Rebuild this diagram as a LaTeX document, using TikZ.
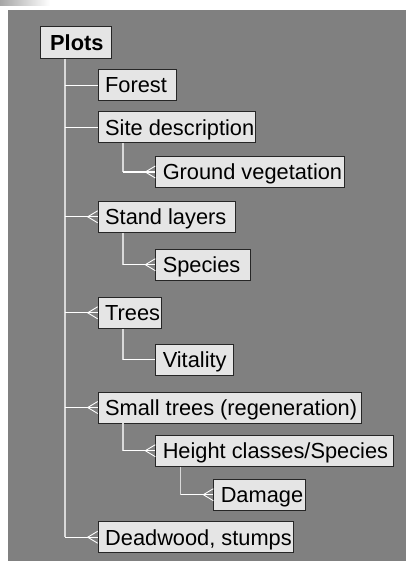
\documentclass[tikz,border=0pt]{standalone}
\usepackage{fontspec}
\setmainfont{Liberation Sans}
\usetikzlibrary{calc}
\newcommand{\bxt}[2]{\makebox[#1pt][l]{\hspace{7pt}#2}}
\begin{document}
\begin{tikzpicture}[x=1pt,y=-1pt,
  ent/.style={draw=black!85, fill=black!10, line width=0.9pt, inner xsep=0pt, inner ysep=0pt,
    text height=15.6pt, text depth=0pt, minimum height=31pt, anchor=west,
    font=\fontsize{21.8}{24}\selectfont},
  trunk/.style={draw=black!15, line width=1.1pt},
  link/.style={draw=white, line width=1.2pt},
  crowl/.style={draw=white, line width=0.9pt}]
\useasboundingbox (0,0) rectangle (406,561);
\shade[left color=black!35, right color=white] (0,0) rectangle (50,6);
\fill[black!50] (8,10) rectangle (406,561);

\node[ent, minimum height=31.6pt] (plots) at (39.7,42.5) {\makebox[71pt][l]{\hspace{10pt}\bfseries Plots}};
\node[ent] (forest) at (97.7,85.2) {\bxt{78.6}{Forest}};
\node[ent] (site) at (97.7,127.4) {\bxt{157.3}{Site description}};
\node[ent] (ground) at (155.3,172) {\bxt{189}{Ground vegetation}};
\node[ent] (stand) at (97.7,216.8) {\bxt{137.6}{Stand layers}};
\node[ent] (species) at (155.3,264.7) {\bxt{94.4}{Species}};
\node[ent] (trees) at (97.7,312.8) {\bxt{63.3}{Trees}};
\node[ent] (vitality) at (155.3,359.7) {\bxt{77.4}{Vitality}};
\node[ent] (small) at (97.7,407.5) {\bxt{263.3}{Small trees (regeneration)}};
\node[ent] (height) at (155.3,450.7) {\bxt{237.4}{Height classes/Species}};
\node[ent] (damage) at (213.3,494.7) {\bxt{92}{Damage}};
\node[ent] (dead) at (97.7,537.2) {\bxt{195.6}{Deadwood, stumps}};

% trunks
\coordinate (t0) at ($(plots.south west)+(25.3,0)$);
\coordinate (t1) at ($(site.south west)+(25.3,0)$);
\coordinate (t2) at ($(stand.south west)+(25.3,0)$);
\coordinate (t3) at ($(trees.south west)+(25.3,0)$);
\coordinate (t4) at ($(small.south west)+(25.3,0)$);
\coordinate (t5) at ($(height.south west)+(25.3,0)$);
\path[trunk] (t0) -- (t0 |- dead.west);
\path[trunk] (t1) -- (t1 |- ground.west);
\path[trunk] (t2) -- (t2 |- species.west);
\path[trunk] (t3) -- (t3 |- vitality.west);
\path[trunk] (t4) -- (t4 |- height.west);
\path[trunk] (t5) -- (t5 |- damage.west);

% horizontal links
\foreach \c/\n in {t0/forest,t0/site,t0/stand,t0/trees,t0/small,t0/dead,t1/ground,t2/species,t3/vitality,t4/height,t5/damage}
  \path[link] (\c |- \n.west) -- (\n.west);

% crow's feet
\foreach \n in {ground,stand,species,trees,small,height,damage,dead}
  \path[crowl] ($(\n.west)+(0,-6)$) -- ($(\n.west)+(-10,0)$) -- ($(\n.west)+(0,6)$);
\end{tikzpicture}
\end{document}
